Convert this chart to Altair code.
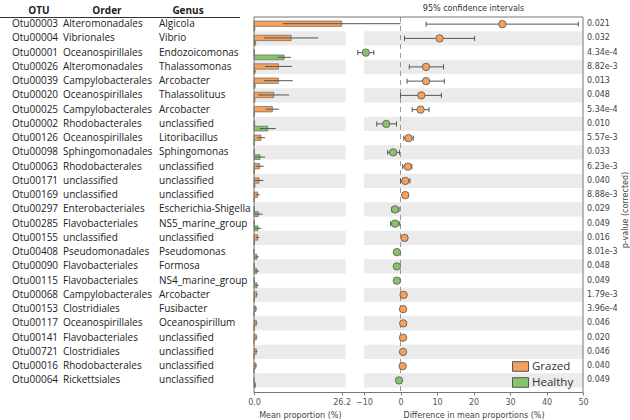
import altair as alt
import pandas as pd

otu = ["Otu00003", "Otu00004", "Otu00001", "Otu00026", "Otu00039", "Otu00020", "Otu00025",
       "Otu00002", "Otu00126", "Otu00098", "Otu00063", "Otu00171", "Otu00169", "Otu00297",
       "Otu00285", "Otu00155", "Otu00408", "Otu00090", "Otu00115", "Otu00068", "Otu00153",
       "Otu00117", "Otu00141", "Otu00721", "Otu00016", "Otu00064"]
order = ["Alteromonadales", "Vibrionales", "Oceanospirillales", "Alteromonadales",
         "Campylobacterales", "Oceanospirillales", "Campylobacterales", "Rhodobacterales",
         "Oceanospirillales", "Sphingomonadales", "Rhodobacterales", "unclassified",
         "unclassified", "Enterobacteriales", "Flavobacteriales", "unclassified",
         "Pseudomonadales", "Flavobacteriales", "Flavobacteriales", "Campylobacterales",
         "Clostridiales", "Oceanospirillales", "Flavobacteriales", "Clostridiales",
         "Rhodobacterales", "Rickettsiales"]
genus = ["Algicola", "Vibrio", "Endozoicomonas", "Thalassomonas", "Arcobacter", "Thalassolituus",
         "Arcobacter", "unclassified", "Litoribacillus", "Sphingomonas", "unclassified",
         "unclassified", "unclassified", "Escherichia-Shigella", "NS5_marine_group",
         "unclassified", "Pseudomonas", "Formosa", "NS4_marine_group", "Arcobacter",
         "Fusibacter", "Oceanospirillum", "unclassified", "unclassified", "unclassified",
         "unclassified"]

grazed_mean = [26.2, 11.1, 0.1, 7.3, 7.3, 5.9, 5.5, 0.2, 2.1, 0.1, 1.7, 1.5, 1.1, 0.1, 0.1,
               1.1, 0.0, 0.1, 0.1, 0.8, 0.6, 0.7, 0.7, 0.7, 0.6, 0.0]
grazed_sd = [17.6, 8.1, 0.1, 4.0, 4.3, 4.6, 2.0, 0.1, 1.2, 0.1, 1.2, 1.3, 0.6, 0.1, 0.1,
             0.5, 0.0, 0.1, 0.1, 0.3, 0.3, 0.3, 0.3, 0.3, 0.3, 0.0]
healthy_mean = [0.2, 0.4, 9.0, 0.3, 0.3, 0.2, 0.1, 4.1, 0.1, 1.8, 0.1, 0.2, 0.1, 1.3, 1.2,
                0.1, 0.9, 0.9, 0.9, 0.1, 0.0, 0.1, 0.0, 0.0, 0.0, 0.4]
healthy_sd = [0.2, 0.3, 2.0, 0.2, 0.2, 0.2, 0.1, 2.4, 0.1, 1.5, 0.1, 0.2, 0.1, 1.2, 0.9,
              0.1, 0.5, 0.6, 0.5, 0.1, 0.0, 0.1, 0.0, 0.0, 0.0, 0.2]

diff = [27.9, 10.7, -9.5, 7.0, 7.0, 5.7, 5.5, -3.9, 2.2, -2.0, 2.0, 1.3, 1.3, -1.5, -1.5,
        1.1, -1.0, -1.0, -1.0, 0.85, 0.7, 0.75, 0.7, 0.7, 0.6, -0.4]
ci_low = [7.0, 1.1, -11.7, 2.4, 1.8, 0.0, 3.2, -6.5, 0.9, -3.5, 0.6, 0.0, 0.6, -2.4, -2.7,
          0.4, -1.4, -1.5, -1.5, 0.6, 0.5, 0.5, 0.5, 0.5, 0.4, -0.6]
ci_high = [48.7, 20.3, -7.3, 11.8, 12.0, 11.2, 7.8, -1.1, 3.5, -0.3, 3.1, 2.6, 2.1, -0.4,
           -0.2, 1.9, -0.6, -0.5, -0.5, 1.1, 0.9, 1.0, 0.9, 0.9, 0.8, -0.2]
pvals = ["0.021", "0.032", "4.34e-4", "8.82e-3", "0.013", "0.048", "5.34e-4", "0.010",
         "5.57e-3", "0.033", "6.23e-3", "0.040", "8.88e-3", "0.029", "0.049", "0.016",
         "8.01e-3", "0.048", "0.049", "1.79e-3", "3.96e-4", "0.046", "0.020", "0.046",
         "0.040", "0.049"]

groups = ["Grazed", "Healthy"]
colors = ["#F3A15D", "#86C46C"]

n = len(otu)
df = pd.DataFrame({"otu": otu, "order": order, "genus": genus, "diff": diff,
                   "lo": ci_low, "hi": ci_high, "p": pvals})
df["row"] = list(range(n))
df["group"] = ["Grazed" if d > 0 else "Healthy" for d in diff]
df["cap0"] = df["row"] - 0.18
df["cap1"] = df["row"] + 0.18

recs = []
for i in range(n):
    recs.append(dict(row=i, group="Grazed", mean=grazed_mean[i], sd=grazed_sd[i],
                     y0=i - 0.22, y1=i + 0.16))
    recs.append(dict(row=i, group="Healthy", mean=healthy_mean[i], sd=healthy_sd[i],
                     y0=i + 0.16, y1=i + 0.5))
bars = pd.DataFrame(recs)
bars["ymid"] = (bars["y0"] + bars["y1"]) / 2
bars["elo"] = (bars["mean"] - bars["sd"]).clip(lower=0)
bars["ehi"] = bars["mean"] + bars["sd"]
bars["zero"] = 0.0
whisk = bars[bars["sd"] > 0]

BAR_MAX = 27.4
bands = pd.DataFrame({"r0": [i - 0.5 for i in range(1, n, 2)],
                      "r1": [i + 0.5 for i in range(1, n, 2)]})
bands["b0"] = 0.0
bands["b1"] = BAR_MAX
bands["c0"] = -10.0
bands["c1"] = 50.0
zero = pd.DataFrame({"x": [0.0], "r0": [-0.5], "r1": [25.85]})
one = pd.DataFrame({"a": [0]})

yscale = alt.Scale(domain=[-0.5, 25.85], range=[17, 392.5], nice=False, zero=False)
bscale = alt.Scale(domain=[0, BAR_MAX], range=[254, 345.7], nice=False, zero=False)
cscale = alt.Scale(domain=[-10, 50], range=[364, 583], nice=False, zero=False)

axis_common = dict(orient="bottom", domain=False, grid=False, tickSize=3, tickColor="#777",
                   labelFont="DejaVu Sans", labelFontSize=8, labelColor="#555",
                   labelPadding=3, labelFlush=False, titleFont="DejaVu Sans",
                   titleFontSize=8, titleFontWeight="normal", titleColor="#444",
                   titlePadding=5)
baxis = alt.Axis(values=[0, 26.2], format=".1f", title="Mean proportion (%)", **axis_common)
caxis = alt.Axis(values=[-10, 0, 10, 20, 30, 40, 50], format="d",
                 title="Difference in mean proportions (%)", **axis_common)

legend = alt.Legend(orient="none", legendX=512, legendY=358, title=None,
                    symbolType="M-1,-0.6H1V0.6H-1Z", symbolSize=256,
                    symbolStrokeColor="#555", symbolStrokeWidth=1, symbolOpacity=1,
                    labelFont="Open Sans", labelFontSize=11.5, labelColor="#333",
                    labelOffset=3, rowPadding=0, padding=0)
color = alt.Color("group:N", scale=alt.Scale(domain=groups, range=colors), legend=legend)


def bx(f):
    return alt.X(f, scale=bscale, axis=baxis)


def cx(f):
    return alt.X(f, scale=cscale, axis=caxis)


def yy(f):
    return alt.Y(f, scale=yscale, axis=None)


# ---------- bar panel ----------
band_bar = alt.Chart(bands).mark_rect(color="#EBEBEB").encode(
    x=bx("b0:Q"), x2="b1:Q", y=yy("r0:Q"), y2="r1:Q")
bar_rect = alt.Chart(bars).mark_rect(stroke="#555", strokeWidth=0.6).encode(
    x=bx("zero:Q"), x2="mean:Q", y=yy("y0:Q"), y2="y1:Q", color=color)
bar_err = alt.Chart(whisk).mark_rule(color="#555", strokeWidth=1).encode(
    x=bx("elo:Q"), x2="ehi:Q", y=yy("ymid:Q"))
bar_layer = alt.layer(band_bar, bar_rect, bar_err)

# ---------- CI panel ----------
band_ci = alt.Chart(bands).mark_rect(color="#EBEBEB").encode(
    x=cx("c0:Q"), x2="c1:Q", y=yy("r0:Q"), y2="r1:Q")
zero_line = alt.Chart(zero).mark_rule(color="#999", strokeDash=[5, 4], strokeWidth=1).encode(
    x=cx("x:Q"), y=yy("r0:Q"), y2="r1:Q")
ci_rule = alt.Chart(df).mark_rule(color="#555", strokeWidth=1).encode(
    x=cx("lo:Q"), x2="hi:Q", y=yy("row:Q"))
cap_lo = alt.Chart(df).mark_rule(color="#555", strokeWidth=1).encode(
    x=cx("lo:Q"), y=yy("cap0:Q"), y2="cap1:Q")
cap_hi = alt.Chart(df).mark_rule(color="#555", strokeWidth=1).encode(
    x=cx("hi:Q"), y=yy("cap0:Q"), y2="cap1:Q")
ci_pt = alt.Chart(df).mark_point(filled=True, size=55, opacity=1, stroke="#555",
                                 strokeWidth=0.8).encode(
    x=cx("diff:Q"), y=yy("row:Q"), color=color)
ci_layer = alt.layer(band_ci, zero_line, ci_rule, cap_lo, cap_hi, ci_pt)

# ---------- text table ----------
tfont = dict(font="Open Sans", fontSize=10, color="#222", align="left", baseline="middle")
t_otu = alt.Chart(df).mark_text(**tfont).encode(x=alt.value(12), y=yy("row:Q"), text="otu:N")
t_order = alt.Chart(df).mark_text(**tfont).encode(x=alt.value(63), y=yy("row:Q"), text="order:N")
t_genus = alt.Chart(df).mark_text(**tfont).encode(x=alt.value(159), y=yy("row:Q"), text="genus:N")
t_p = alt.Chart(df).mark_text(font="DejaVu Sans", fontSize=8, color="#444", align="left",
                              baseline="middle").encode(
    x=alt.value(587), y=yy("row:Q"), text="p:N")


def label(txt, x, y, **kw):
    return alt.Chart(one).mark_text(text=txt, **kw).encode(x=alt.value(x), y=alt.value(y))


hfont = dict(font="Open Sans", fontSize=10, fontWeight="bold", color="#222",
             align="center", baseline="middle")
h1 = label("OTU", 39, 10.5, **hfont)
h2 = label("Order", 107, 10.5, **hfont)
h3 = label("Genus", 188, 10.5, **hfont)
head_rule = alt.Chart(one).mark_rule(color="#333", strokeWidth=1).encode(
    x=alt.value(0), x2=alt.value(240), y=alt.value(17.5))
ci_title = label("95% confidence intervals", 473.5, 9, font="DejaVu Sans", fontSize=8,
                 color="#333", align="center", baseline="middle")
p_title = label("p-value (corrected)", 626, 210, font="DejaVu Sans", fontSize=8,
                color="#444", align="center", baseline="middle", angle=270)
frame = alt.Chart(one).mark_rect(fill="transparent", stroke="#777", strokeWidth=1).encode(
    x=alt.value(254), x2=alt.value(583), y=alt.value(17), y2=alt.value(392.5))

chart = alt.layer(
    bar_layer, ci_layer, t_otu, t_order, t_genus, t_p, h1, h2, h3, head_rule,
    ci_title, p_title, frame
).resolve_scale(x="independent").properties(
    width=630, height=392,
    autosize=alt.AutoSizeParams(type="none"),
    padding={"left": 0, "top": 0, "right": 0, "bottom": 28},
).configure_view(stroke=None)

chart.save("out.html", embed_options={"renderer": "svg", "actions": False})
